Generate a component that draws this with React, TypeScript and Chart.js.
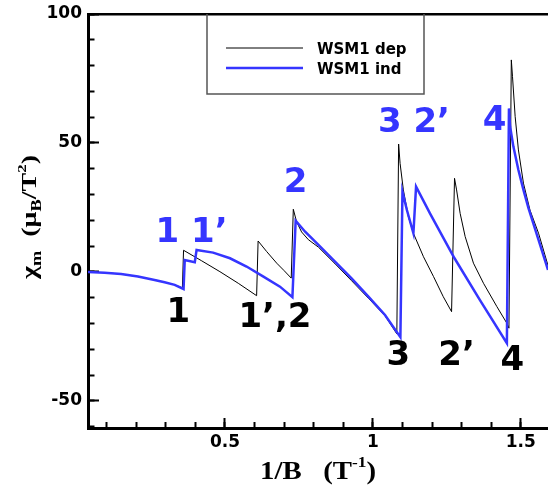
import React, { useEffect, useRef } from "react";
import { Chart, registerables } from "chart.js";

Chart.register(...registerables);

// ---------------- data ----------------
const seriesLabels = ["WSM1 dep", "WSM1 ind"];

const depX = [
  0.037, 0.093, 0.149, 0.206, 0.262, 0.296, 0.33, 0.356,
  0.36, 0.42, 0.483, 0.545, 0.607,
  0.612, 0.641, 0.675, 0.7, 0.724,
  0.731, 0.742, 0.759, 0.782, 0.816, 0.872, 0.928, 0.985, 1.041, 1.081,
  1.087, 1.092, 1.103, 1.12, 1.137, 1.171, 1.205, 1.238, 1.266,
  1.276, 1.283, 1.295, 1.312, 1.34, 1.374, 1.419, 1.453, 1.46,
  1.468, 1.472, 1.481, 1.492, 1.509, 1.531, 1.56, 1.592,
];
const depY = [
  0, -0.3, -0.8, -1.8, -3.1, -4.0, -5.0, -6.2,
  8.4, 4.4, 0.1, -4.4, -9.2,
  12.0, 7.9, 3.4, 0.5, -2.4,
  24.3, 19.5, 15.5, 12.5, 9.6, 3.2, -3.4, -10.2, -17.0, -24.0,
  49.6, 42.1, 31.8, 21.4, 15.0, 5.9, -1.8, -9.6, -15.4,
  36.3, 31.8, 22.7, 13.7, 3.4, -4.4, -13.4, -19.9, -21.8,
  82.2, 75.7, 60.2, 47.3, 34.4, 24.0, 15.0, 2.5,
];

const indX = [
  0.037, 0.093, 0.149, 0.206, 0.262, 0.296, 0.33, 0.36,
  0.364, 0.398,
  0.404, 0.46, 0.517, 0.573, 0.63, 0.686, 0.728,
  0.739, 0.771, 0.816, 0.872, 0.928, 0.985, 1.041, 1.093,
  1.1, 1.115, 1.137,
  1.146, 1.193, 1.276, 1.362, 1.453,
  1.46, 1.464, 1.475, 1.492, 1.509, 1.526, 1.56, 1.592,
];
const indY = [
  0, -0.3, -0.8, -1.8, -3.1, -4.0, -5.0, -6.6,
  4.6, 3.8,
  8.5, 7.5, 5.3, 2.1, -1.8, -5.7, -9.8,
  19.9, 15.6, 10.5, 4.0, -2.5, -9.6, -16.7, -25.3,
  31.1, 24.0, 15.0,
  33.1, 22.7, 5.3, -10.9, -27.6,
  63.4, 56.3, 48.6, 39.5, 31.8, 24.7, 12.4, 0.8,
];

const xMin = 0.037;
const xMax = 1.592;
const yMin = -60.5;
const yMax = 100;

const xTickValues = [0.5, 1, 1.5];
const xTickLabels = ["0.5", "1", "1.5"];
const yTickValues = [-50, 0, 50, 100];
const yTickLabels = ["-50", "0", "50", "100"];
const xMinorStep = 0.1;
const yMinorStep = 10;

const blueLabelText = ["1 1\u2019", "2", "3 2\u2019", "4"];
const blueLabelX = [0.387, 0.739, 1.139, 1.411];
const blueLabelY = [11.7, 31.0, 54.4, 55.0];

const blackLabelText = ["1", "1\u2019,2", "3", "2\u2019", "4"];
const blackLabelX = [0.342, 0.669, 1.086, 1.283, 1.471];
const blackLabelY = [-19.4, -21.3, -36.0, -36.0, -38.0];

// ---------------- styles ----------------
const BLUE = "#3535ff";
const TICK_FONT = { family: "'DejaVu Sans'", weight: "bold" as const, size: 17 };

type Seg = { t: string; s: number; dy: number };
const xTitleSegs: Seg[] = [
  { t: "1/B", s: 1, dy: 0 },
  { t: "   (T", s: 1, dy: 0 },
  { t: "-1", s: 0.6, dy: 0.45 },
  { t: ")", s: 1, dy: 0 },
];
const yTitleSegs: Seg[] = [
  { t: "\u03C7", s: 1, dy: 0 },
  { t: "m", s: 0.65, dy: -0.25 },
  { t: "  (\u03BC", s: 1, dy: 0 },
  { t: "B", s: 0.65, dy: -0.25 },
  { t: "/T", s: 1, dy: 0 },
  { t: "2", s: 0.6, dy: 0.45 },
  { t: ")", s: 1, dy: 0 },
];

function drawRich(
  ctx: CanvasRenderingContext2D,
  segs: Seg[],
  size: number,
  family: string,
  targetLen: number
) {
  let total = 0;
  const widths = segs.map((seg) => {
    ctx.font = `bold ${size * seg.s}px ${family}`;
    const w = ctx.measureText(seg.t).width;
    total += w;
    return w;
  });
  const k = targetLen / total;
  ctx.scale(k, 1);
  let x = -total / 2;
  ctx.textAlign = "left";
  ctx.textBaseline = "alphabetic";
  segs.forEach((seg, i) => {
    ctx.font = `bold ${size * seg.s}px ${family}`;
    ctx.fillText(seg.t, x, -seg.dy * size);
    x += widths[i];
  });
}

const decorPlugin = {
  id: "decor",
  afterDatasetsDraw(chart: any) {
    const { ctx, chartArea } = chart;
    const xs = chart.scales.x;
    const ys = chart.scales.y;
    ctx.save();
    // annotations
    ctx.font = "bold 34px 'DejaVu Sans'";
    ctx.textAlign = "center";
    ctx.textBaseline = "alphabetic";
    ctx.fillStyle = BLUE;
    blueLabelText.forEach((t, i) => {
      ctx.fillText(t, xs.getPixelForValue(blueLabelX[i]), ys.getPixelForValue(blueLabelY[i]));
    });
    ctx.fillStyle = "#000";
    blackLabelText.forEach((t, i) => {
      ctx.fillText(t, xs.getPixelForValue(blackLabelX[i]), ys.getPixelForValue(blackLabelY[i]));
    });

    // legend
    const L = chartArea.left + 119;
    const R = chartArea.left + 336;
    const T = chartArea.top;
    const B = chartArea.top + 80;
    ctx.strokeStyle = "#555";
    ctx.lineWidth = 1.5;
    ctx.beginPath();
    ctx.moveTo(L, T);
    ctx.lineTo(L, B);
    ctx.lineTo(R, B);
    ctx.lineTo(R, T);
    ctx.stroke();
    const ds = chart.data.datasets;
    ds.forEach((d: any, i: number) => {
      const ly = T + 34 + i * 20;
      ctx.strokeStyle = d.borderColor;
      ctx.lineWidth = d.borderWidth;
      ctx.beginPath();
      ctx.moveTo(chartArea.left + 138, ly);
      ctx.lineTo(chartArea.left + 215, ly);
      ctx.stroke();
      ctx.fillStyle = "#000";
      ctx.font = "bold 15px 'DejaVu Sans'";
      ctx.textAlign = "left";
      ctx.textBaseline = "alphabetic";
      ctx.fillText(d.label, chartArea.left + 229, ly + 5.5);
    });
    ctx.restore();

    // axis titles
    ctx.save();
    ctx.fillStyle = "#000";
    ctx.translate((chartArea.left + chartArea.right) / 2, 478.5);
    drawRich(ctx, xTitleSegs, 25, "'Liberation Serif'", 116);
    ctx.restore();

    ctx.save();
    ctx.fillStyle = "#000";
    ctx.translate(35.5, 217);
    ctx.rotate(-Math.PI / 2);
    drawRich(ctx, yTitleSegs, 22, "'Liberation Serif'", 124);
    ctx.restore();
  },
};

export default function App() {
  const ref = useRef<HTMLCanvasElement>(null);
  useEffect(() => {
    document.body.style.margin = "0";
    const canvas = ref.current!;
    const chart = new Chart(canvas, {
      type: "line",
      data: {
        datasets: [
          {
            label: seriesLabels[0],
            data: depX.map((x, i) => ({ x, y: depY[i] })),
            borderColor: "#000",
            borderWidth: 1,
            pointRadius: 0,
            tension: 0,
            fill: false,
            order: 1,
          },
          {
            label: seriesLabels[1],
            data: indX.map((x, i) => ({ x, y: indY[i] })),
            borderColor: BLUE,
            borderWidth: 2.5,
            pointRadius: 0,
            tension: 0,
            fill: false,
            order: 0,
          },
        ],
      },
      options: {
        responsive: false,
        animation: false,
        devicePixelRatio: 1,
        layout: { padding: 0 },
        plugins: { legend: { display: false }, tooltip: { enabled: false } },
        scales: {
          x: {
            type: "linear",
            position: "bottom",
            min: xMin,
            max: xMax,
            weight: 1,
            afterBuildTicks: (s: any) => {
              s.ticks = xTickValues.map((v) => ({ value: v }));
            },
            ticks: {
              padding: 14,
              font: TICK_FONT,
              color: "#000",
              maxRotation: 0,
              autoSkip: false,
              callback: (v: any) => {
                const i = xTickValues.indexOf(Number(v));
                return i >= 0 ? xTickLabels[i] : "";
              },
            },
            grid: { drawOnChartArea: false, tickLength: -10, tickWidth: 2, tickColor: "#000" },
            border: { display: true, width: 3, color: "#000" },
            afterFit: (s: any) => {
              s.height = 66;
              s.paddingLeft = 0;
              s.paddingRight = 0;
            },
          } as any,
          xMinor: {
            type: "linear",
            position: "bottom",
            min: xMin,
            max: xMax,
            weight: 0,
            ticks: { stepSize: xMinorStep, includeBounds: false, display: false },
            grid: { drawOnChartArea: false, tickLength: -6, tickWidth: 2, tickColor: "#000" },
            border: { display: false },
            afterFit: (s: any) => {
              s.height = 0;
              s.paddingLeft = 0;
              s.paddingRight = 0;
            },
          } as any,
          xTop: {
            type: "linear",
            position: "top",
            min: xMin,
            max: xMax,
            ticks: { display: false },
            grid: { display: false, drawTicks: false },
            border: { display: true, width: 2.5, color: "#000" },
            afterFit: (s: any) => {
              s.height = 14;
              s.paddingLeft = 0;
              s.paddingRight = 0;
            },
          } as any,
          y: {
            type: "linear",
            position: "left",
            min: yMin,
            max: yMax,
            weight: 1,
            afterBuildTicks: (s: any) => {
              s.ticks = yTickValues.map((v) => ({ value: v }));
            },
            ticks: {
              padding: 17,
              font: TICK_FONT,
              color: "#000",
              autoSkip: false,
              callback: (v: any) => {
                const i = yTickValues.indexOf(Number(v));
                return i >= 0 ? yTickLabels[i] : "";
              },
            },
            grid: { drawOnChartArea: false, tickLength: -11, tickWidth: 2, tickColor: "#000" },
            border: { display: true, width: 3, color: "#000" },
            afterFit: (s: any) => {
              s.width = 88;
              s.paddingTop = 0;
              s.paddingBottom = 0;
            },
          } as any,
          yMinor: {
            type: "linear",
            position: "left",
            min: yMin,
            max: yMax,
            weight: 0,
            ticks: { stepSize: yMinorStep, includeBounds: false, display: false },
            grid: { drawOnChartArea: false, tickLength: -6.5, tickWidth: 2, tickColor: "#000" },
            border: { display: false },
            afterFit: (s: any) => {
              s.width = 0;
              s.paddingTop = 0;
              s.paddingBottom = 0;
            },
          } as any,
        },
      },
      plugins: [decorPlugin],
    });
    return () => chart.destroy();
  }, []);
  return <canvas ref={ref} width={548} height={494} style={{ display: "block" }} />;
}
